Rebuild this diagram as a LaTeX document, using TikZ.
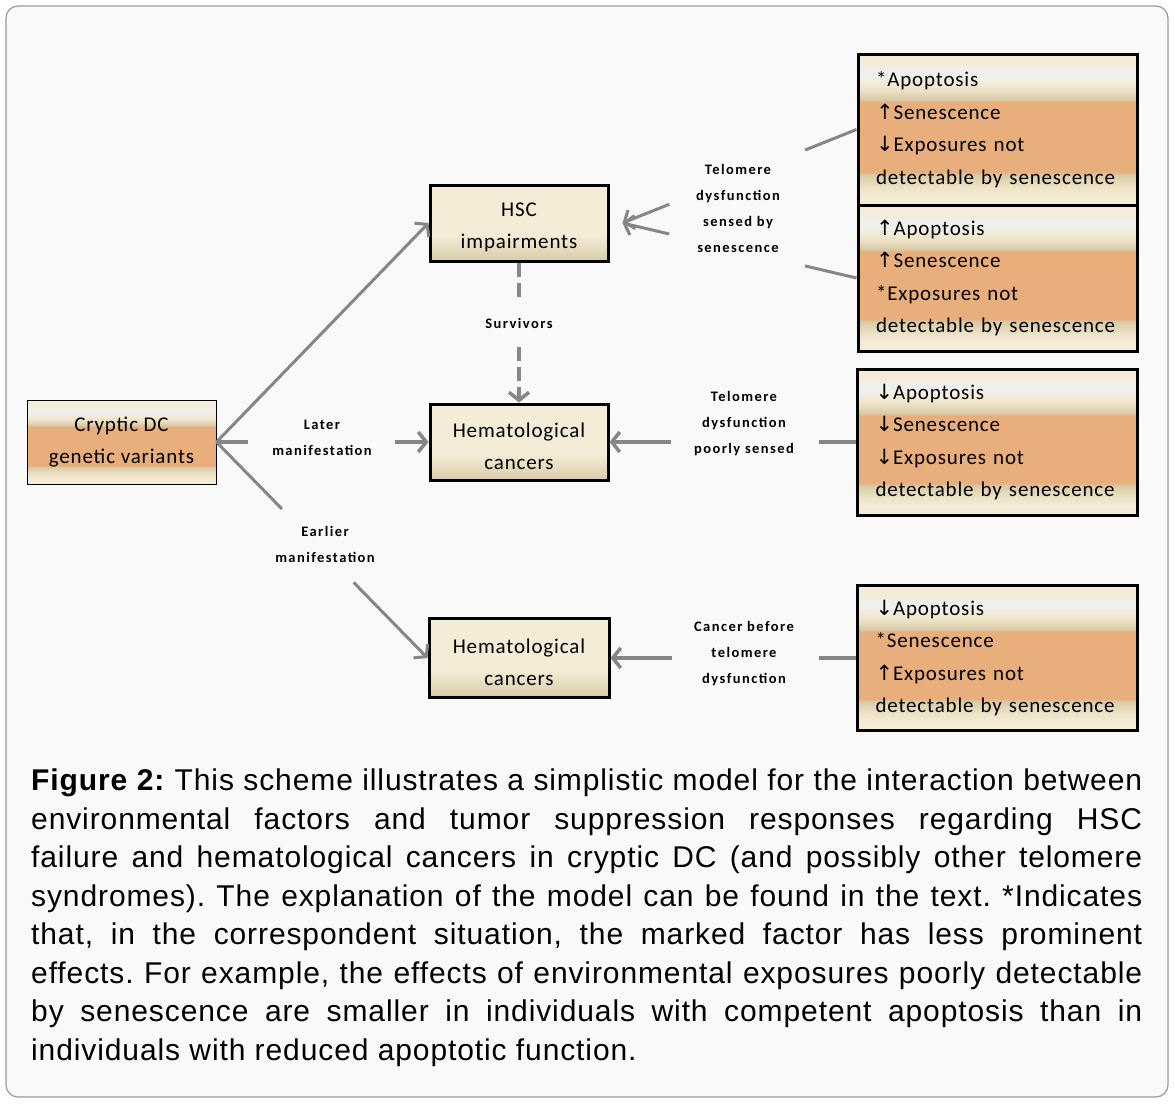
\documentclass[tikz,border=0pt]{standalone}
\usepackage{fontspec}
\setmainfont{Carlito}
\newfontfamily\capfont[LetterSpace=3]{Liberation Sans}
\newfontfamily\boxfont[LetterSpace=4]{Carlito}
\newfontfamily\tagfont[LetterSpace=10]{Carlito}
\newfontfamily\symfont{DejaVu Sans}
\usetikzlibrary{arrows.meta,calc}

\definecolor{creamA}{HTML}{F4ECD6}
\definecolor{creamB}{HTML}{EDE2C6}
\definecolor{whiteA}{HTML}{EFEFEC}
\definecolor{tanA}{HTML}{D9CBA7}
\definecolor{tanB}{HTML}{D8CBA8}
\definecolor{orangeA}{HTML}{E8AE7C}
\definecolor{linkgray}{HTML}{868686}
\definecolor{framegray}{HTML}{9A9A9A}
\definecolor{panelbg}{HTML}{F9F9F9}

\pgfdeclareverticalshading{bandfill}{100bp}{color(0bp)=(creamA); color(25bp)=(creamA);
  color(28bp)=(creamA); color(31bp)=(creamB); color(35bp)=(tanA); color(36bp)=(orangeA);
  color(59bp)=(orangeA); color(60bp)=(tanA); color(63bp)=(creamB); color(65.5bp)=(creamA);
  color(67bp)=(whiteA); color(70bp)=(whiteA); color(72bp)=(creamA); color(100bp)=(creamA)}
\pgfdeclareverticalshading{softfill}{100bp}{color(0bp)=(tanB); color(25bp)=(tanB);
  color(42bp)=(creamA); color(100bp)=(creamA)}

\newcommand{\upar}{{\symfont\fontsize{21}{21}\selectfont ↑}}
\newcommand{\downar}{{\symfont\fontsize{21}{21}\selectfont ↓}}
\newcommand{\capline}[1]{\makebox[1111pt][s]{#1}}

\begin{document}
\begin{tikzpicture}[x=1pt,y=-1pt,
  every node/.style={inner sep=0pt},
  card/.style={draw=black, line width=3pt, minimum width=178pt, minimum height=76pt,
    shade, shading=softfill, align=center, font=\boxfont\fontsize{21}{32}\selectfont},
  panel/.style={draw=black, line width=3pt, minimum width=279pt, minimum height=146pt,
    shade, shading=bandfill, text width=243pt, align=left,
    font=\boxfont\fontsize{21}{32.5}\selectfont},
  tag/.style={align=center, font=\tagfont\bfseries\fontsize{14.5}{26}\selectfont},
  link/.style={draw=linkgray, line width=3.5pt, -{Straight Barb[length=8pt,width=20pt]}},
  stub/.style={draw=linkgray, line width=3.5pt}]

  % frame
  \fill[white] (0,0) rectangle (1175,1103);
  \draw[draw=framegray, line width=1.2pt, fill=panelbg, rounded corners=12pt] (6,6) rectangle (1168,1097);

  % boxes
  \node[card, line width=1pt, shading=bandfill, minimum width=189pt, minimum height=84pt] (dc) at (121.5,442) {Cryptic DC\\genetic variants};
  \node[card] (hsc) at (519,223) {\strut HSC\\impairments};
  \node[card] (hemA) at (519,442) {\strut Hematological\\cancers};
  \node[card, minimum width=180pt, minimum height=79pt] (hemB) at (519,658) {\strut Hematological\\cancers};

  \node[panel, minimum height=151pt] (bx1) at (997.5,129.5) {{*}Apoptosis\\\upar Senescence\\\downar Exposures not\\detectable by senescence};
  \node[panel] (bx2) at (997.5,278) {\upar Apoptosis\\\upar Senescence\\{*}Exposures not\\detectable by senescence};
  \node[panel, minimum width=280pt] (bx3) at (997,442) {\downar Apoptosis\\\downar Senescence\\\downar Exposures not\\detectable by senescence};
  \node[panel, minimum width=280pt, minimum height=145pt] (bx4) at (997,658) {\downar Apoptosis\\{*}Senescence\\\upar Exposures not\\detectable by senescence};

  % labels
  \node[tag] (later) at (322,438) {Later\\manifestation};
  \node[tag] (earlier) at (325,544) {Earlier\\manifestation};
  \node[tag] (surv) at (519,323) {Survivors};
  \node[tag] (sensed) at (738,208) {Telomere\\dysfunction\\sensed by\\senescence};
  \node[tag] (poorly) at (744,424) {Telomere\\dysfunction\\poorly sensed};
  \node[tag] (before) at (744,654) {Cancer before\\telomere\\dysfunction};

  % connectors
  \coordinate (hsctip) at ($(hsc.east)+(13,0)$);
  \draw[link, line width=3pt] (dc.east) -- (hsc.west);
  \draw[stub] (dc.east) -- ($(dc.east)!0.15!(hemA.west)$);
  \draw[link] ($(dc.east)!0.84!(hemA.west)$) -- (hemA.west);
  \draw[stub, line width=3pt] (dc.east) -- ($(dc.east)!0.31!(hemB.west)$);
  \draw[link, line width=3pt] ($(dc.east)!0.65!(hemB.west)$) -- (hemB.west);
  \draw[stub, dash pattern=on 14pt off 6pt] (hsc.south) -- ($(hsc.south)!0.25!(hemA.north)$);
  \draw[link, dash pattern=on 14pt off 6pt] ($(hsc.south)!0.6!(hemA.north)$) -- (hemA.north);

  \draw[stub, line width=3pt] (bx1.west) -- ($(bx1.west)!0.22!(hsctip)$);
  \draw[link, line width=3pt] ($(bx1.west)!0.8!(hsctip)$) -- (hsctip);
  \draw[stub, line width=3pt] (bx2.west) -- ($(bx2.west)!0.22!(hsctip)$);
  \draw[link, line width=3pt] ($(bx2.west)!0.8!(hsctip)$) -- (hsctip);
  \draw[stub] (bx3.west) -- ($(bx3.west)!0.15!(hemA.east)$);
  \draw[link] ($(bx3.west)!0.75!(hemA.east)$) -- (hemA.east);
  \draw[stub] (bx4.west) -- ($(bx4.west)!0.15!(hemB.east)$);
  \draw[link] ($(bx4.west)!0.75!(hemB.east)$) -- (hemB.east);

  % caption
  \node[anchor=north west, align=left, font=\capfont\frenchspacing\fontsize{30}{38.5}\selectfont] (cap) at (31,769) {%
    \capline{\textbf{Figure 2:} This scheme illustrates a simplistic model for the interaction between}\\
    \capline{environmental factors and tumor suppression responses regarding HSC}\\
    \capline{failure and hematological cancers in cryptic DC (and possibly other telomere}\\
    \capline{syndromes). The explanation of the model can be found in the text. *Indicates}\\
    \capline{that, in the correspondent situation, the marked factor has less prominent}\\
    \capline{effects. For example, the effects of environmental exposures poorly detectable}\\
    \capline{by senescence are smaller in individuals with competent apoptosis than in}\\
    individuals with reduced apoptotic function.};
\end{tikzpicture}
\end{document}
